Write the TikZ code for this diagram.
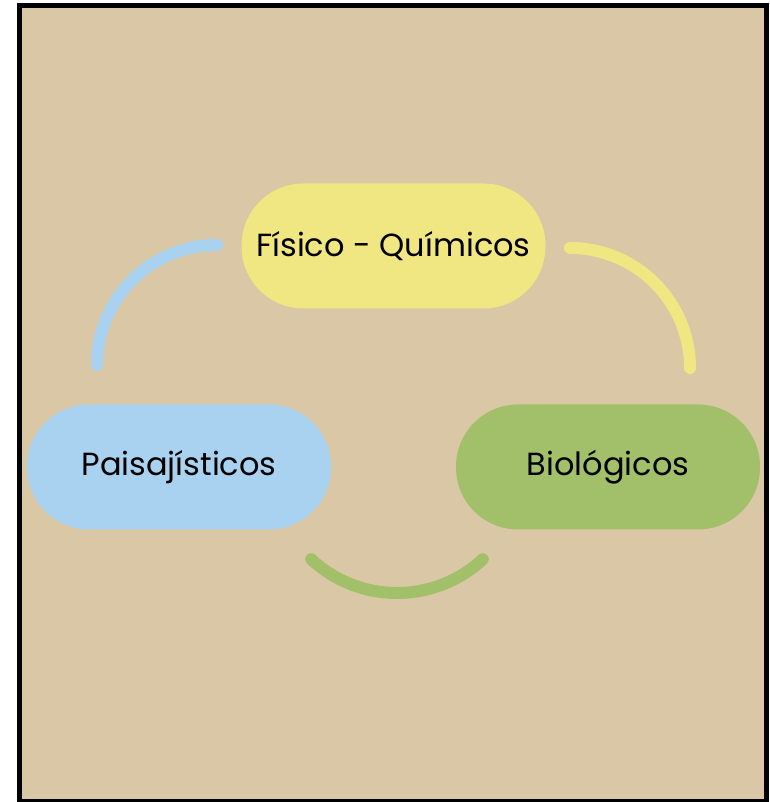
\documentclass[tikz,border=0pt]{standalone}
\usepackage{fontspec}
\setmainfont{Poppins}
\usetikzlibrary{calc}
\definecolor{tanbg}{RGB}{218,199,165}
\definecolor{pillyellow}{RGB}{240,230,130}
\definecolor{pillblue}{RGB}{168,210,240}
\definecolor{pillgreen}{RGB}{162,192,106}
\newcommand{\pilltext}[1]{\raisebox{-3pt}{#1}}
\begin{document}
\begin{tikzpicture}[x=1pt,y=1pt,
  pill/.style={rectangle, rounded corners=62pt, minimum width=304pt, minimum height=125pt, inner sep=0pt, text=black, font=\fontsize{32}{34}\selectfont},
  arcline/.style={line width=12pt, line cap=round}]
\useasboundingbox (0,0) rectangle (769,802);
\fill[white] (0,0) rectangle (769,802);
\draw[line width=5pt, fill=tanbg] (19.5,796.5) rectangle (766.5,0.5);
\node[pill, fill=pillyellow] (fq) at (393.5,556) {\pilltext{Físico - Químicos}};
\node[pill, fill=pillblue] (pa) at (179,335) {\pilltext{Paisajísticos}};
\node[pill, fill=pillgreen] (bi) at (608,335) {\pilltext{Biológicos}};
\coordinate (b1) at (217,557);
\coordinate (y1) at (570,554);
\coordinate (gc) at (397,334.8);
\draw[arcline, pillblue] (b1) arc[start angle=90, end angle=180, radius=120];
\draw[arcline, pillyellow] (y1) arc[start angle=90, end angle=0, radius=120];
\draw[arcline, pillgreen] ($(gc)+(227:125.8)$) arc[start angle=227, end angle=313, radius=125.8];
\end{tikzpicture}
\end{document}
